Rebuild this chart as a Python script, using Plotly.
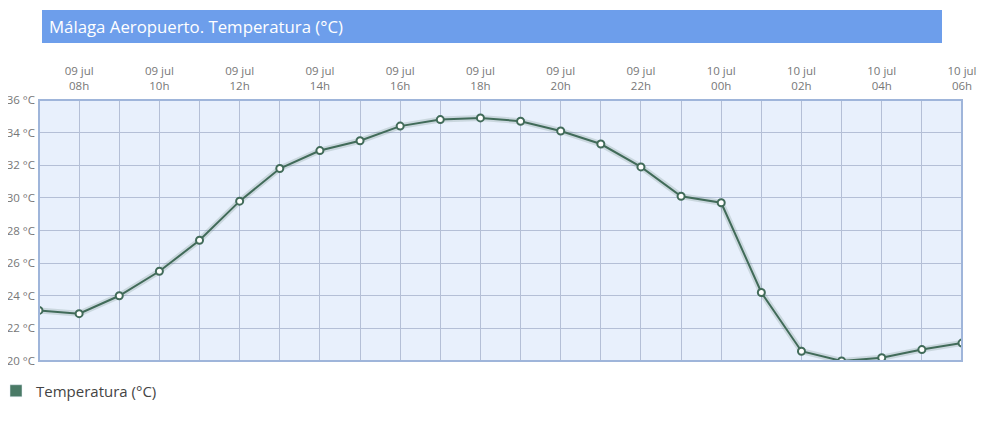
import plotly.graph_objects as go

hours = ["07h", "08h", "09h", "10h", "11h", "12h", "13h", "14h", "15h", "16h", "17h", "18h",
         "19h", "20h", "21h", "22h", "23h", "00h", "01h", "02h", "03h", "04h", "05h", "06h"]
days = ["09 jul"] * 17 + ["10 jul"] * 7
temps = [23.1, 22.9, 24.0, 25.5, 27.4, 29.8, 31.8, 32.9, 33.5, 34.4, 34.8, 34.9,
         34.7, 34.1, 33.3, 31.9, 30.1, 29.7, 24.2, 20.6, 20.0, 20.2, 20.7, 21.1]
y_ticks = [20, 22, 24, 26, 28, 30, 32, 34, 36]
series_name = "Temperatura (°C)"
title_text = "Málaga Aeropuerto. Temperatura (°C)"

x = list(range(len(hours)))
label_idx = [i for i in x if i % 2 == 1]
tick_text = [f"{days[i]}<br>{hours[i]}" for i in label_idx]

line_color = "#416b59"

# page has an 8px body margin; margins below are in figure coordinates
L, T, PW, PH = 31, 92, 923, 261


def px_x(p):
    return (p - L) / PW


def px_y(p):
    return (T + PH - p) / PH


fig = go.Figure()
# soft shadow under the line
fig.add_trace(go.Scatter(
    x=x, y=temps, mode="lines", showlegend=False, hoverinfo="skip",
    line=dict(color="rgba(65,107,89,0.18)", width=6),
))
fig.add_trace(go.Scatter(
    x=x, y=temps, mode="lines+markers", name=series_name, showlegend=False,
    line=dict(color=line_color, width=2),
    marker=dict(size=7, color="white", line=dict(color=line_color, width=2)),
))
fig.add_trace(go.Bar(x=[None], y=[None], name=series_name, marker_color="#4a7a66", showlegend=True))

fig.update_layout(
    width=987, height=440,
    margin=dict(l=L, r=987 - L - PW, t=T, b=440 - T - PH, autoexpand=False),
    paper_bgcolor="white",
    plot_bgcolor="#e8f0fc",
    font=dict(family="Open Sans", color="#666666", size=11),
    showlegend=True,
    legend=dict(x=-43 / PW, y=-30 / PH, xanchor="left", yanchor="middle",
                font=dict(size=15, color="#444444"), bgcolor="rgba(0,0,0,0)",
                itemwidth=30),
    xaxis=dict(
        side="top", range=[0, len(hours) - 1], automargin=False,
        tickvals=label_idx, ticktext=tick_text, ticklabelstandoff=7,
        showgrid=False, zeroline=False, ticks="",
        tickfont=dict(size=11.5, color="#777777"),
        minor=dict(tickvals=x, showgrid=True, gridcolor="#b4bfd6", gridwidth=1),
    ),
    yaxis=dict(
        range=[20, 36], tickvals=y_ticks, ticktext=[f"{v} °C" for v in y_ticks],
        automargin=False, ticklabelstandoff=3,
        showgrid=True, gridcolor="#b4bfd6", gridwidth=1, zeroline=False, ticks="",
        tickfont=dict(size=11.5, color="#777777"),
    ),
    shapes=[
        dict(type="rect", xref="paper", yref="paper", x0=0, x1=1, y0=0, y1=1,
             line=dict(color="#9fb5da", width=2), layer="above"),
        dict(type="rect", xref="paper", yref="paper",
             x0=px_x(34), x1=px_x(934), y0=px_y(35), y1=px_y(2),
             fillcolor="#6d9eeb", line=dict(width=0)),
    ],
    annotations=[dict(
        text=title_text, xref="paper", yref="paper",
        x=px_x(39), y=px_y(18.5), xanchor="left", yanchor="middle",
        showarrow=False, align="left",
        font=dict(size=16.8, color="white", family="Open Sans"),
    )],
)

fig.write_html("out.html")
